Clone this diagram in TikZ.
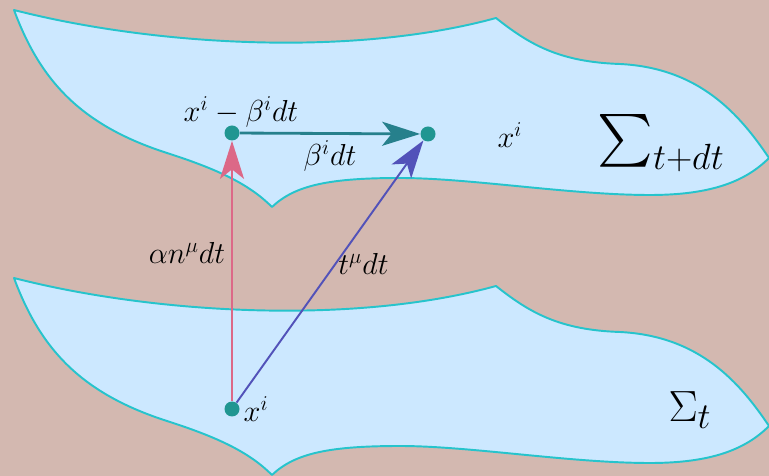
\documentclass[tikz,border=0pt]{standalone}
\usepackage{amsmath,amssymb}
\usepackage{xcolor}
\usepackage{tikz}
\usetikzlibrary{arrows.meta,positioning}
\definecolor{bgcolor}{RGB}{211,184,176}
\definecolor{sheetcolor}{RGB}{204,232,255}
\definecolor{edgecolor}{RGB}{38,196,204}
\definecolor{ptcolor}{RGB}{32,150,145}
\definecolor{shiftcolor}{RGB}{38,128,140}
\definecolor{ncolor}{RGB}{220,104,135}
\definecolor{tcolor}{RGB}{82,82,185}

\begin{document}
\begin{tikzpicture}[x=0.2mm,y=-0.2mm,
  sheet/.style={fill=sheetcolor,draw=edgecolor,line width=1.1pt,line join=round},
  pt/.style={circle,fill=ptcolor,inner sep=0pt,minimum size=3mm},
  vec/.style={-{Stealth[length=7.6mm,width=4.8mm,inset=1.9mm]},line width=1.1pt},
  lbl/.style={font=\fontsize{17}{20}\selectfont,text=black},
  big/.style={font=\fontsize{30}{36}\selectfont,text=black}]
  \fill[bgcolor] (0,0) rectangle (769,476);
  \useasboundingbox (0,0) rectangle (769,476);
  % ---- the two slices
  \foreach \dy in {0,268} {
    \draw[sheet,shift={(0,\dy)}] (14,10) .. controls (150,45) and (350,58) .. (496,18)
      .. controls (530,45) and (560,62) .. (620,64)
      .. controls (700,68) and (740,115) .. (769,158)
      .. controls (745,182) and (710,195) .. (650,195)
      .. controls (570,195) and (470,178) .. (400,178)
      .. controls (330,178) and (295,185) .. (272,207)
      .. controls (250,185) and (220,170) .. (167,153)
      .. controls (80,125) and (40,80) .. (14,10) -- cycle;
  }
  % ---- points
  \node[pt] (base) at (232,409) {};
  \node[pt] (back) at (232,133) {};
  \node[pt] (next) at (428,134) {};
  % ---- vectors
  \draw[vec,ncolor] (base) -- (back) node[lbl,left,pos=0.57] {$\alpha n^\mu dt$};
  \draw[vec,tcolor] (base) -- (next) node[lbl,right,pos=0.53,inner sep=1pt] {$t^\mu dt$};
  \draw[vec,shiftcolor,line width=1.6pt] (back) -- (next) node[lbl,below,midway] {$\beta^i dt$};
  % ---- labels
  \node[lbl] (backlbl) at (241,112) {$x^i-\beta^i dt$};
  \node[lbl] (nextlbl) at (510,135) {$x^i$};
  \node[lbl,right=0pt of base,inner sep=2pt] (baselbl) {$x^i$};
  \node[big] (upper) at (661,143) {$\sum_{t+dt}$};
  \node[big] (lower) at (690,410) {$\Sigma_t$};
\end{tikzpicture}
\end{document}
